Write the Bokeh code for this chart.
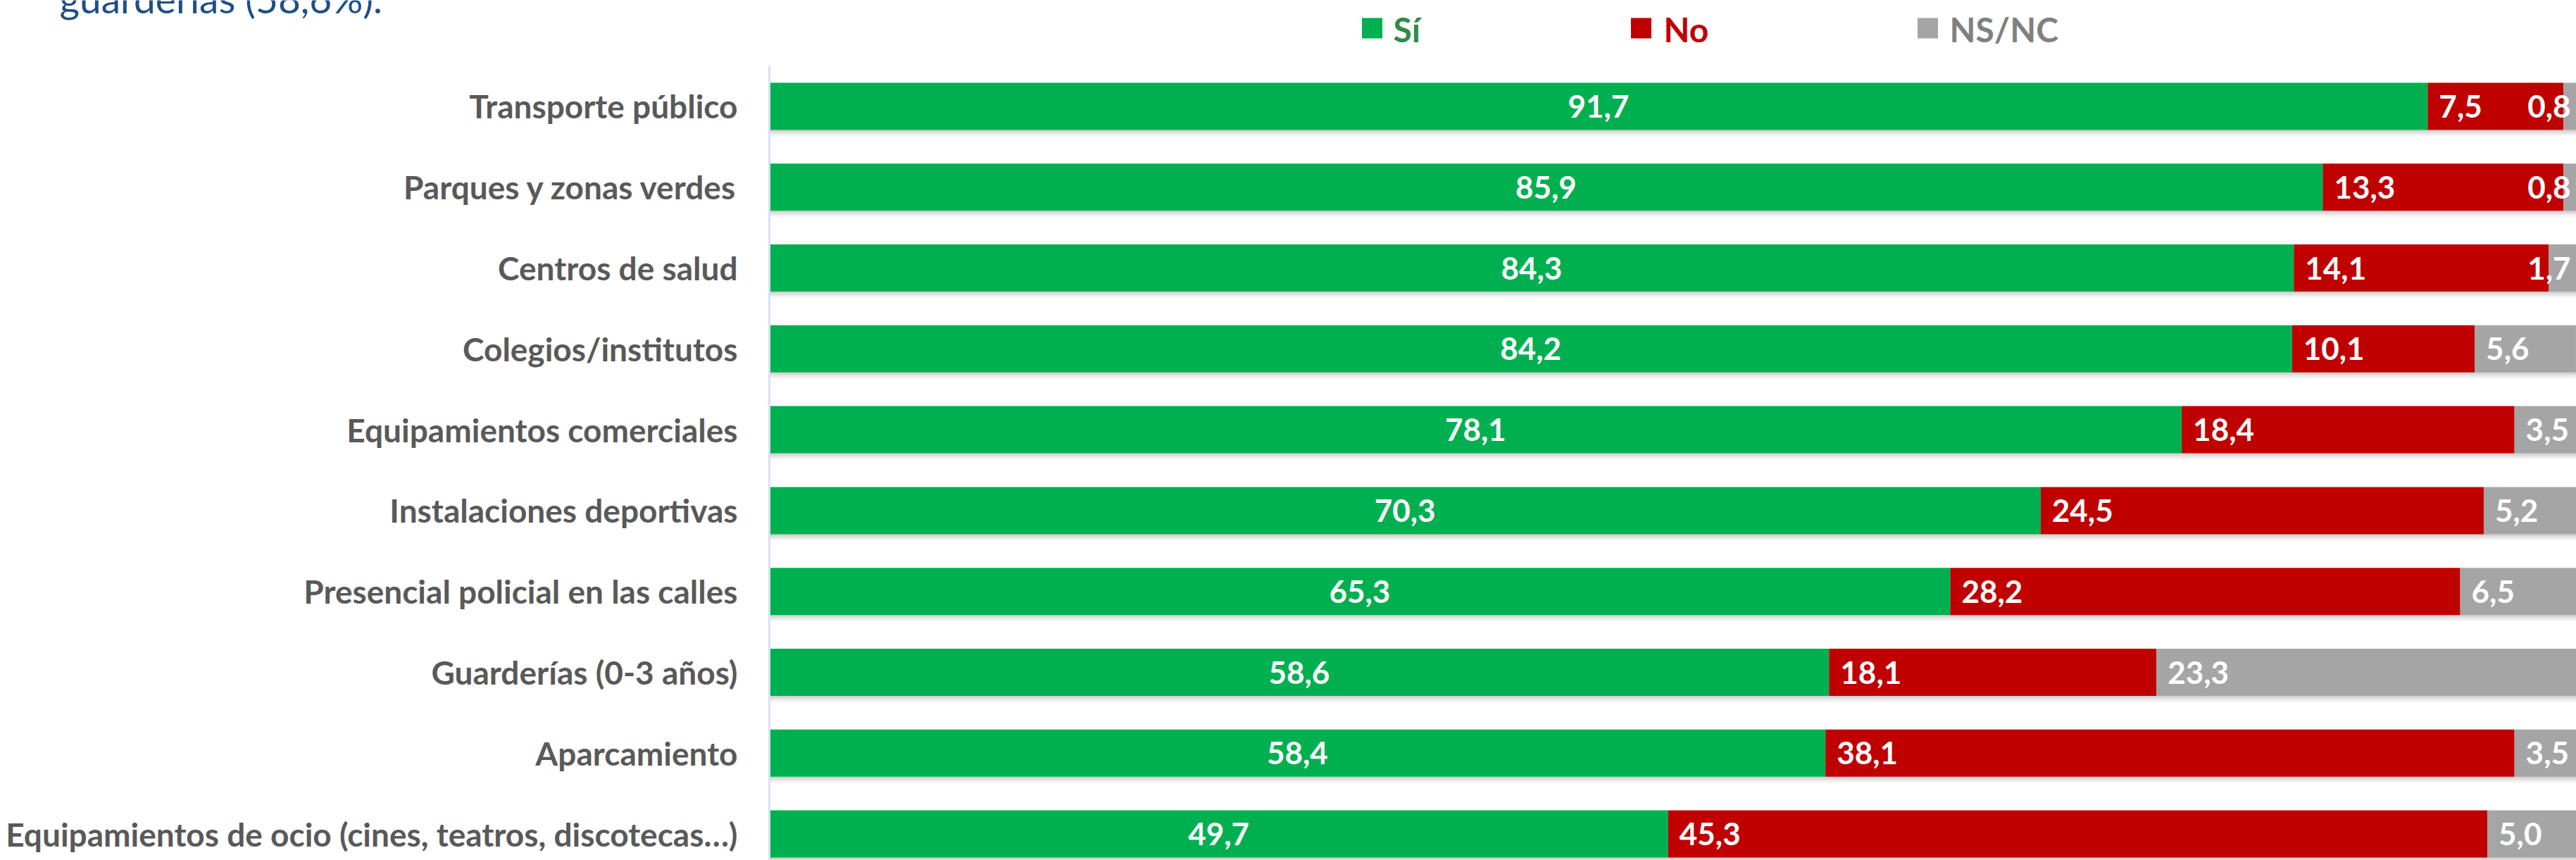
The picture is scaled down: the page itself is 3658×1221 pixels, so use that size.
from bokeh.plotting import figure
from bokeh.models import ColumnDataSource, Range1d
from bokeh.core.properties import value
from bokeh.embed import file_html
from bokeh.resources import INLINE

categories = [
    "Transporte público",
    "Parques y zonas verdes",
    "Centros de salud",
    "Colegios/institutos",
    "Equipamientos comerciales",
    "Instalaciones deportivas",
    "Presencial policial en las calles",
    "Guarderías (0-3 años)",
    "Aparcamiento",
    "Equipamientos de ocio (cines, teatros, discotecas…)",
]
si = [91.7, 85.9, 84.3, 84.2, 78.1, 70.3, 65.3, 58.6, 58.4, 49.7]
no = [7.5, 13.3, 14.1, 10.1, 18.4, 24.5, 28.2, 18.1, 38.1, 45.3]
nsnc = [0.8, 0.8, 1.7, 5.6, 3.5, 5.2, 6.5, 23.3, 3.5, 5.0]
series_names = ["Sí", "No", "NS/NC"]
title_tail = "guarderías (58,6%)."

GREEN, RED, GREY = "#00B050", "#C00000", "#A5A5A5"
FONT = "Lato"

# ---- layout geometry (pixels) ----
W, H = 3658, 1221
AX_LEFT, AX_TOP = 1092, 93        # plot area origin
XS = 25.68                        # px per percentage point
YS = 114.8                        # px per category slot
n = len(categories)
Y_TOP = n - 0.5


def px_x(px):
    return (px - AX_LEFT) / XS


def px_y(py):
    return Y_TOP + (AX_TOP - py) / YS


ys = [n - 1 - i for i in range(n)]
si_no = [a + b for a, b in zip(si, no)]
tot = [a + b + c for a, b, c in zip(si, no, nsnc)]
fmt = lambda v: f"{v:.1f}".replace(".", ",")

src = ColumnDataSource(dict(y=ys, si=si, no=no, nsnc=nsnc, si_no=si_no, tot=tot,
                            si_mid=[v / 2 for v in si], cat=categories,
                            si_lab=[fmt(v) for v in si], no_lab=[fmt(v) for v in no]))

p = figure(width=W, height=H, output_backend="svg", toolbar_location=None,
           x_range=Range1d(px_x(0), px_x(W)), y_range=Range1d(px_y(H), px_y(0)),
           x_axis_location=None, y_axis_location=None,
           min_border_left=0, min_border_right=0, min_border_top=0, min_border_bottom=0)
p.outline_line_color = None
p.xgrid.visible = False
p.ygrid.visible = False
p.background_fill_color = "white"
p.border_fill_color = "white"

BAR_H = 0.584
PX = 1 / YS
# soft shadow under bars
for k, a in [(3, 0.08), (6, 0.06), (9, 0.04)]:
    p.hbar(y=[y - k * PX for y in ys], left=0, right=tot, height=BAR_H,
           fill_color="black", fill_alpha=a, line_color=None)

r_si = p.hbar(y="y", left=0, right="si", height=BAR_H, fill_color=GREEN, line_color=None, source=src)
r_no = p.hbar(y="y", left="si", right="si_no", height=BAR_H, fill_color=RED, line_color=None, source=src)
r_ns = p.hbar(y="y", left="si_no", right="tot", height=BAR_H, fill_color=GREY, line_color=None, source=src)

# category axis line
p.segment(x0=0, y0=px_y(H), x1=0, y1=Y_TOP, line_color="#D6E2F4", line_width=3)

# category labels
p.text(x=px_x(1047), y="y", text="cat", source=src, text_align="right", text_baseline="middle",
       text_font=value(FONT), text_font_style="bold", text_font_size="46px", text_color="#595959")

lab_kw = dict(text_font=value(FONT), text_font_style="bold", text_font_size="44px",
              text_color="white", text_baseline="middle")
p.text(x="si_mid", y="y", text="si_lab", text_align="center", source=src, **lab_kw)
p.text(x="si", y="y", text="no_lab", text_align="left", x_offset=16, source=src, **lab_kw)

# NS/NC labels: inside base, pushed left when they would overflow the right edge
fit_x, fit_y, fit_t, end_y, end_t = [], [], [], [], []
for y, start, v in zip(ys, si_no, nsnc):
    if start > 97:
        end_y.append(y); end_t.append(fmt(v))
    else:
        fit_x.append(start); fit_y.append(y); fit_t.append(fmt(v))
p.text(x=fit_x, y=fit_y, text=fit_t, text_align="left", x_offset=16, **lab_kw)
p.text(x=[px_x(W)] * len(end_y), y=end_y, text=end_t, text_align="right", x_offset=-8, **lab_kw)

# legend (drawn by hand so each entry can carry its own text colour)
leg_sq_px = [1948, 2330, 2737]
leg_tx_px = [1978, 2362, 2768]
leg_text_col = ["#2E8B4B", RED, "#808080"]
leg_fill = [GREEN, RED, GREY]
p.scatter(x=[px_x(v) for v in leg_sq_px], y=[px_y(39.5)] * 3, marker="square", size=29,
          fill_color=leg_fill, line_color=None)
p.text(x=[px_x(v) for v in leg_tx_px], y=[px_y(41)] * 3, text=series_names,
       text_color=leg_text_col, text_align="left", text_baseline="middle",
       text_font=value(FONT), text_font_style="bold", text_font_size="48px")

# last line of the text above the chart (cut by the top edge)
p.text(x=[px_x(84)], y=[px_y(-3)], text=[title_tail], text_align="left",
       text_baseline="alphabetic", text_font=value(FONT), text_font_size="55px",
       text_color="#1F4E86")

open("out.html", "w").write(file_html(p, INLINE))
